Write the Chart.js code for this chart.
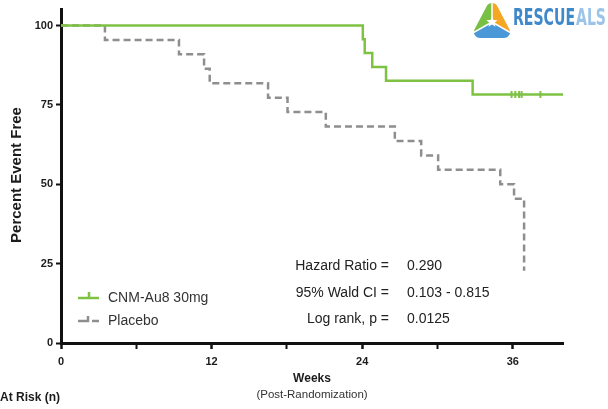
<!DOCTYPE html>
<html>
<head>
<meta charset="utf-8">
<script src="https://cdn.jsdelivr.net/npm/chart.js@4.4.1/dist/chart.umd.min.js"></script>
<style>
    html, body { margin: 0; padding: 0; background: #fff; }
    #wrap { width: 608px; height: 409px; position: relative; }
</style>
</head>
<body>
<div id="wrap"><canvas id="kmChart"></canvas></div>
<script>
// Kaplan-Meier data
const weekTicks = [0, 6, 12, 18, 24, 30, 36];
const percentTicks = [0, 25, 50, 75, 100];

const cnmWeeks = [0, 24.05, 24.2, 24.8, 25.9, 32.8, 40];
const cnmPercent = [100, 95.65, 91.3, 86.96, 82.61, 78.26, 78.26];
const cnmCensorWeeks = [35.9, 36.2, 36.5, 36.7, 38.2];

const placeboWeeks = [0, 3.5, 9.4, 11.4, 11.85, 16.5, 18.05, 21.1, 26.6, 28.7, 30.05, 35.0, 36.1, 36.9];
const placeboPercent = [100, 95.45, 90.91, 86.36, 81.82, 77.27, 72.73, 68.18, 63.64, 59.09, 54.55, 50.0, 45.45, 22.73];

const seriesNames = ['CNM-Au8 30mg', 'Placebo'];
const statLabels = ['Hazard Ratio =', '95% Wald CI =', 'Log rank, p ='];
const statValues = ['0.290', '0.103 - 0.815', '0.0125'];

const GREEN = '#7dc243';
const GREY = '#8e8e8e';
const FONT = '"Liberation Sans", Arial, sans-serif';

function toPoints(xs, ys) {
    return xs.map((x, i) => ({ x: x, y: ys[i] }));
}

// Text, legend and logo drawn on top of the chart
const annotations = {
    id: 'annotations',
    afterDraw(chart) {
        const ctx = chart.ctx;
        ctx.save();
        ctx.fillStyle = '#1c1c1c';
        ctx.textBaseline = 'middle';

        // y axis title
        ctx.save();
        ctx.translate(17, 175);
        ctx.rotate(-Math.PI / 2);
        ctx.textAlign = 'center';
        ctx.font = 'bold 15px ' + FONT;
        ctx.fillText('Percent Event Free', 0, 0);
        ctx.restore();

        // x axis title
        ctx.textAlign = 'center';
        ctx.font = 'bold 12px ' + FONT;
        ctx.fillText('Weeks', 312, 379);
        ctx.font = '11.5px ' + FONT;
        ctx.fillStyle = '#333';
        ctx.fillText('(Post-Randomization)', 312, 395);
        ctx.fillStyle = '#1c1c1c';
        ctx.textAlign = 'left';
        ctx.font = 'bold 12px ' + FONT;
        ctx.fillText('At Risk (n)', 0, 398);

        // legend
        ctx.lineWidth = 2.5;
        ctx.strokeStyle = GREEN;
        ctx.beginPath();
        ctx.moveTo(78, 298); ctx.lineTo(99, 298);
        ctx.moveTo(89, 298); ctx.lineTo(89, 292);
        ctx.stroke();
        ctx.strokeStyle = GREY;
        ctx.beginPath();
        ctx.moveTo(78, 321); ctx.lineTo(88, 321); ctx.lineTo(88, 316);
        ctx.moveTo(92, 321); ctx.lineTo(99, 321);
        ctx.stroke();
        ctx.font = '14px ' + FONT;
        ctx.fillStyle = '#333';
        ctx.fillText(seriesNames[0], 108, 298);
        ctx.fillText(seriesNames[1], 108, 321);

        // statistics
        ctx.fillStyle = '#222';
        const statY = [266, 293, 319];
        statLabels.forEach((label, i) => {
            ctx.textAlign = 'right';
            ctx.fillText(label, 389, statY[i]);
            ctx.textAlign = 'left';
            ctx.fillText(statValues[i], 407, statY[i]);
        });

        // logo
        drawLogo(ctx);
        ctx.restore();
    }
};

function drawLogo(ctx) {
    const cx = 492, cy = 22, r = 26;
    // rounded triangle outline, pointing up
    const pts = [[492, -4], [514, 38], [470, 38]];
    ctx.save();
    ctx.beginPath();
    ctx.moveTo((pts[2][0] + pts[0][0]) / 2, (pts[2][1] + pts[0][1]) / 2);
    for (let i = 0; i < 3; i++) {
        const p = pts[i], q = pts[(i + 1) % 3];
        ctx.arcTo(p[0], p[1], q[0], q[1], 6);
    }
    ctx.closePath();
    ctx.clip();
    const parts = [
        ['#f5a623', -90, 30],
        ['#4a98d8', 30, 150],
        ['#78c043', 150, 270]
    ];
    parts.forEach(([color, a0, a1]) => {
        ctx.fillStyle = color;
        ctx.beginPath();
        ctx.moveTo(cx, cy);
        ctx.arc(cx, cy, r, a0 * Math.PI / 180, a1 * Math.PI / 180);
        ctx.closePath();
        ctx.fill();
    });
    ctx.strokeStyle = '#fff';
    ctx.lineWidth = 1.5;
    ctx.beginPath();
    [-90, 30, 150].forEach(a => {
        ctx.moveTo(cx, cy);
        ctx.lineTo(cx + r * Math.cos(a * Math.PI / 180), cy + r * Math.sin(a * Math.PI / 180));
    });
    ctx.stroke();
    // star in the middle
    ctx.fillStyle = '#fff';
    ctx.beginPath();
    for (let i = 0; i < 10; i++) {
        const rr = i % 2 === 0 ? 6 : 2.5;
        const a = (-90 + i * 36) * Math.PI / 180;
        ctx.lineTo(cx + rr * Math.cos(a), cy + rr * Math.sin(a));
    }
    ctx.closePath();
    ctx.fill();
    ctx.restore();

    // word mark, squeezed to the width of the original
    ctx.save();
    ctx.textAlign = 'left';
    ctx.textBaseline = 'middle';
    ctx.font = 'bold 23px "DejaVu Sans", ' + FONT;
    const wRescue = ctx.measureText('RESCUE').width;
    const sx = 62 / wRescue;
    ctx.translate(513, 19);
    ctx.scale(sx, 1);
    ctx.fillStyle = '#3f88c9';
    ctx.fillText('RESCUE', 0, 0);
    ctx.fillStyle = '#9cc4e8';
    ctx.fillText('ALS', wRescue + 1 / sx, 0);
    ctx.restore();
}

const ctx = document.getElementById('kmChart').getContext('2d');

new Chart(ctx, {
    type: 'scatter',
    data: {
        datasets: [
            {
                label: seriesNames[0],
                data: toPoints(cnmWeeks, cnmPercent),
                showLine: true,
                stepped: true,
                borderColor: GREEN,
                borderWidth: 2.5,
                pointRadius: 0,
                fill: false
            },
            {
                label: seriesNames[0] + ' censored',
                data: cnmCensorWeeks.map(x => ({ x: x, y: cnmPercent[cnmPercent.length - 1] })),
                pointStyle: 'line',
                rotation: 90,
                pointRadius: 3.5,
                borderColor: GREEN,
                backgroundColor: GREEN,
                borderWidth: 2
            },
            {
                label: seriesNames[1],
                data: toPoints(placeboWeeks, placeboPercent),
                showLine: true,
                stepped: true,
                borderColor: GREY,
                borderWidth: 2.5,
                borderDash: [7, 4],
                pointRadius: 0,
                fill: false
            }
        ]
    },
    options: {
        responsive: true,
        maintainAspectRatio: false,
        animation: false,
        layout: {
            padding: { top: 4, right: 45, left: 0, bottom: 0 }
        },
        plugins: {
            legend: { display: false },
            tooltip: { enabled: false }
        },
        scales: {
            x: {
                type: 'linear',
                min: 0,
                max: 40,
                afterBuildTicks: scale => { scale.ticks = weekTicks.map(v => ({ value: v })); },
                afterFit: scale => { scale.height = 66; },
                ticks: {
                    autoSkip: false,
                    maxRotation: 0,
                    padding: 6,
                    color: '#1c1c1c',
                    font: { family: FONT, size: 11, weight: 'bold' },
                    callback: v => (v % 12 === 0 ? v : '')
                },
                grid: {
                    drawOnChartArea: false,
                    tickLength: 6,
                    tickColor: '#111',
                    tickWidth: c => (c.tick && c.tick.value % 12 === 0 ? 2.5 : 2)
                },
                border: { color: '#111', width: 3 }
            },
            y: {
                min: 0,
                max: 105,
                afterBuildTicks: scale => { scale.ticks = percentTicks.map(v => ({ value: v })); },
                afterFit: scale => { scale.width = 61; },
                ticks: {
                    padding: 3,
                    color: '#1c1c1c',
                    font: { family: FONT, size: 11, weight: 'bold' }
                },
                grid: {
                    drawOnChartArea: false,
                    tickLength: 5,
                    tickColor: '#111',
                    tickWidth: 2
                },
                border: { color: '#111', width: 3 }
            }
        }
    },
    plugins: [annotations]
});
</script>
</body>
</html>
